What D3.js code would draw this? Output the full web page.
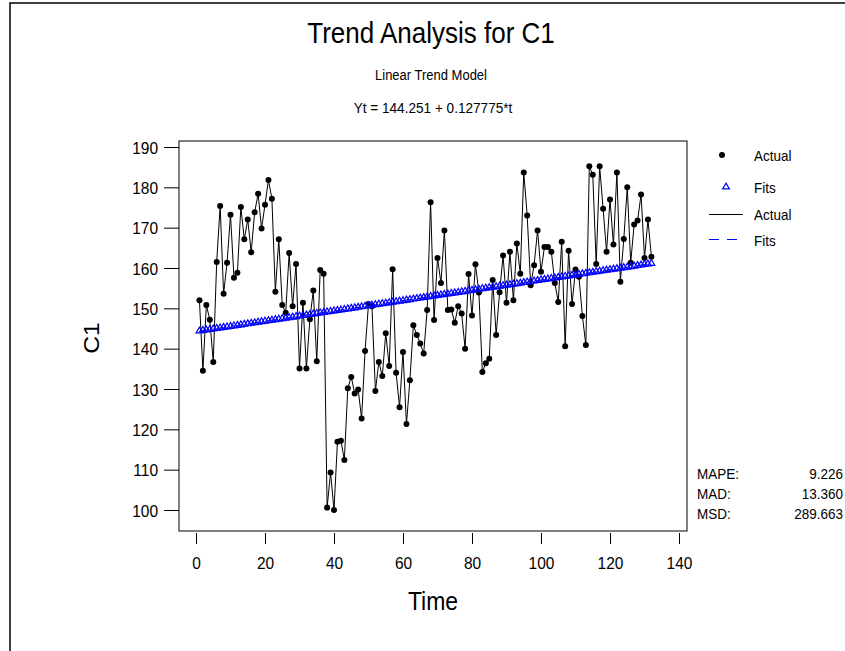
<!DOCTYPE html>
<html>
<head>
<meta charset="utf-8">
<script src="https://cdn.jsdelivr.net/npm/d3@7"></script>
<style>
  body { margin: 0; background: #fff; }
  text { font-family: "Liberation Sans", Arial, sans-serif; fill: #000; }
</style>
</head>
<body>
<div id="chart-area"></div>
<script>
// values of C1, t = 1 .. 132
const actual = [
  152.0, 134.5, 150.8, 147.2, 136.7, 161.5, 175.4, 153.6, 161.3, 173.2,
  157.6, 158.8, 175.1, 167.1, 172.0, 163.9, 173.8, 178.4, 169.8, 175.7,
  181.8, 177.2, 154.1, 167.1, 150.8, 148.9, 163.7, 150.5, 161.0, 135.1,
  151.4, 135.1, 147.3, 154.4, 136.9, 159.5, 158.6, 100.6, 109.3, 100.0,
  116.9, 117.2, 112.4, 130.2, 133.0, 128.9, 129.9, 122.7, 139.4, 151.1,
  150.5, 129.5, 136.7, 133.2, 143.8, 135.7, 159.7, 134.0, 125.5, 139.2,
  121.3, 132.2, 145.8, 143.4, 141.3, 138.8, 149.6, 176.3, 147.1, 162.5,
  156.3, 169.3, 149.6, 149.7, 146.4, 150.5, 148.7, 140.0, 158.5, 148.2,
  160.9, 153.9, 134.2, 136.4, 137.5, 157.0, 143.4, 154.0, 163.1, 151.4,
  164.0, 152.0, 166.1, 158.6, 183.7, 173.0, 155.7, 160.7, 169.3, 159.1,
  165.2, 165.2, 164.0, 156.3, 151.6, 166.5, 140.6, 164.3, 151.1, 159.6,
  157.8, 148.1, 140.9, 185.2, 183.1, 161.0, 185.2, 174.7, 164.0, 177.0,
  165.8, 183.7, 156.6, 167.2, 180.0, 161.3, 170.8, 171.8, 178.2, 162.5,
  172.0, 162.8
]

// linear trend model printed on the chart
const trendIntercept = 144.251
const trendSlope = 0.127775

const xTicks = [0, 20, 40, 60, 80, 100, 120, 140]
const yTicks = [100, 110, 120, 130, 140, 150, 160, 170, 180, 190]

const statNames = ["MAPE:", "MAD:", "MSD:"]
const statValues = ["9.226", "13.360", "289.663"]

const FONT_STRETCH = 1.12
const PLOT = { LEFT: 179, TOP: 141, RIGHT: 687, BOTTOM: 531 }

const data = actual.map((v, i) => ({ t: i + 1, value: v, fit: trendIntercept + trendSlope * (i + 1) }))

const svg = d3.select("#chart-area").append("svg")
  .attr("width", 845)
  .attr("height", 651)

// outer border (top and left only)
svg.append("path")
  .attr("d", "M10,651 V3 H845")
  .attr("fill", "none")
  .attr("stroke", "#000")
  .attr("stroke-width", 1.5)

function label(x, y, txt, size, anchor) {
  return svg.append("text")
    .attr("transform", `translate(${x},${y}) scale(1,${FONT_STRETCH})`)
    .attr("font-size", size)
    .attr("text-anchor", anchor || "start")
    .text(txt)
}

// titles
label(431, 43, "Trend Analysis for C1", 26, "middle")
label(431, 80, "Linear Trend Model", 13, "middle")
label(433, 113, `Yt = ${trendIntercept} + ${trendSlope}*t`, 13.6, "middle")

// scales
const x = d3.scaleLinear().domain([0, 140]).range([196, 679])
const y = d3.scaleLinear().domain([100, 190]).range([510, 147])

// frame
svg.append("rect")
  .attr("x", PLOT.LEFT)
  .attr("y", PLOT.TOP)
  .attr("width", PLOT.RIGHT - PLOT.LEFT)
  .attr("height", PLOT.BOTTOM - PLOT.TOP)
  .attr("fill", "none")
  .attr("stroke", "#000")

// axes
const yAxis = svg.append("g")
  .attr("transform", `translate(${PLOT.LEFT},0)`)
  .call(d3.axisLeft(y).tickValues(yTicks).tickSize(15).tickSizeOuter(0))
yAxis.select(".domain").remove()
yAxis.selectAll(".tick line").attr("stroke", "#000")
yAxis.selectAll(".tick text")
  .attr("x", 0).attr("dy", null)
  .attr("font-size", 15.5)
  .attr("transform", `translate(-21,6) scale(1,${FONT_STRETCH})`)

const xAxis = svg.append("g")
  .attr("transform", `translate(0,${PLOT.BOTTOM + 2})`)
  .call(d3.axisBottom(x).tickValues(xTicks).tickSize(11).tickSizeOuter(0))
xAxis.select(".domain").remove()
xAxis.selectAll(".tick line").attr("stroke", "#000")
xAxis.selectAll(".tick text")
  .attr("y", 0).attr("dy", null)
  .attr("font-size", 15.5)
  .attr("transform", `translate(0,36) scale(1,${FONT_STRETCH})`)

// axis titles
label(433, 610, "Time", 23, "middle")
svg.append("text")
  .attr("transform", `translate(99,338) scale(1,${FONT_STRETCH}) rotate(-90)`)
  .attr("font-size", 22)
  .attr("text-anchor", "middle")
  .text("C1")

// actual series
const line = d3.line()
  .x(d => x(d.t))
  .y(d => y(d.value))

svg.append("path")
  .attr("d", line(data))
  .attr("fill", "none")
  .attr("stroke", "#000")
  .attr("stroke-width", 1)

svg.append("g").selectAll("circle")
  .data(data)
  .enter().append("circle")
  .attr("cx", d => x(d.t))
  .attr("cy", d => y(d.value))
  .attr("r", 3)
  .attr("fill", "#000")

// fits
const fitLine = d3.line()
  .x(d => x(d.t))
  .y(d => y(d.fit))

svg.append("path")
  .attr("d", fitLine(data))
  .attr("fill", "none")
  .attr("stroke", "#0000ff")
  .attr("stroke-dasharray", "10,7")

const tri = d3.symbol().type(d3.symbolTriangle).size(20)
svg.append("g").selectAll("path")
  .data(data)
  .enter().append("path")
  .attr("d", tri)
  .attr("transform", d => `translate(${x(d.t)},${y(d.fit)})`)
  .attr("fill", "none")
  .attr("stroke", "#0000ff")
  .attr("stroke-width", 1.2)

// legend
const legend = svg.append("g")
legend.append("circle").attr("cx", 722).attr("cy", 155).attr("r", 3).attr("fill", "#000")
legend.append("path").attr("d", tri).attr("transform", "translate(726,187)")
  .attr("fill", "none").attr("stroke", "#0000ff").attr("stroke-width", 1.2)
legend.append("line").attr("x1", 709).attr("x2", 743).attr("y1", 214.5).attr("y2", 214.5)
  .attr("stroke", "#000")
legend.append("line").attr("x1", 709).attr("x2", 737).attr("y1", 239.5).attr("y2", 239.5)
  .attr("stroke", "#0000ff").attr("stroke-width", 1.2).attr("stroke-dasharray", "10,8")
label(754, 161, "Actual", 13.5)
label(754, 193, "Fits", 13.5)
label(754, 220, "Actual", 13.5)
label(754, 246, "Fits", 13.5)

// accuracy measures
statNames.forEach((n, i) => {
  label(697, 479 + i * 20, n, 13.5)
  label(843, 479 + i * 20, statValues[i], 13.5, "end")
})
</script>
</body>
</html>
